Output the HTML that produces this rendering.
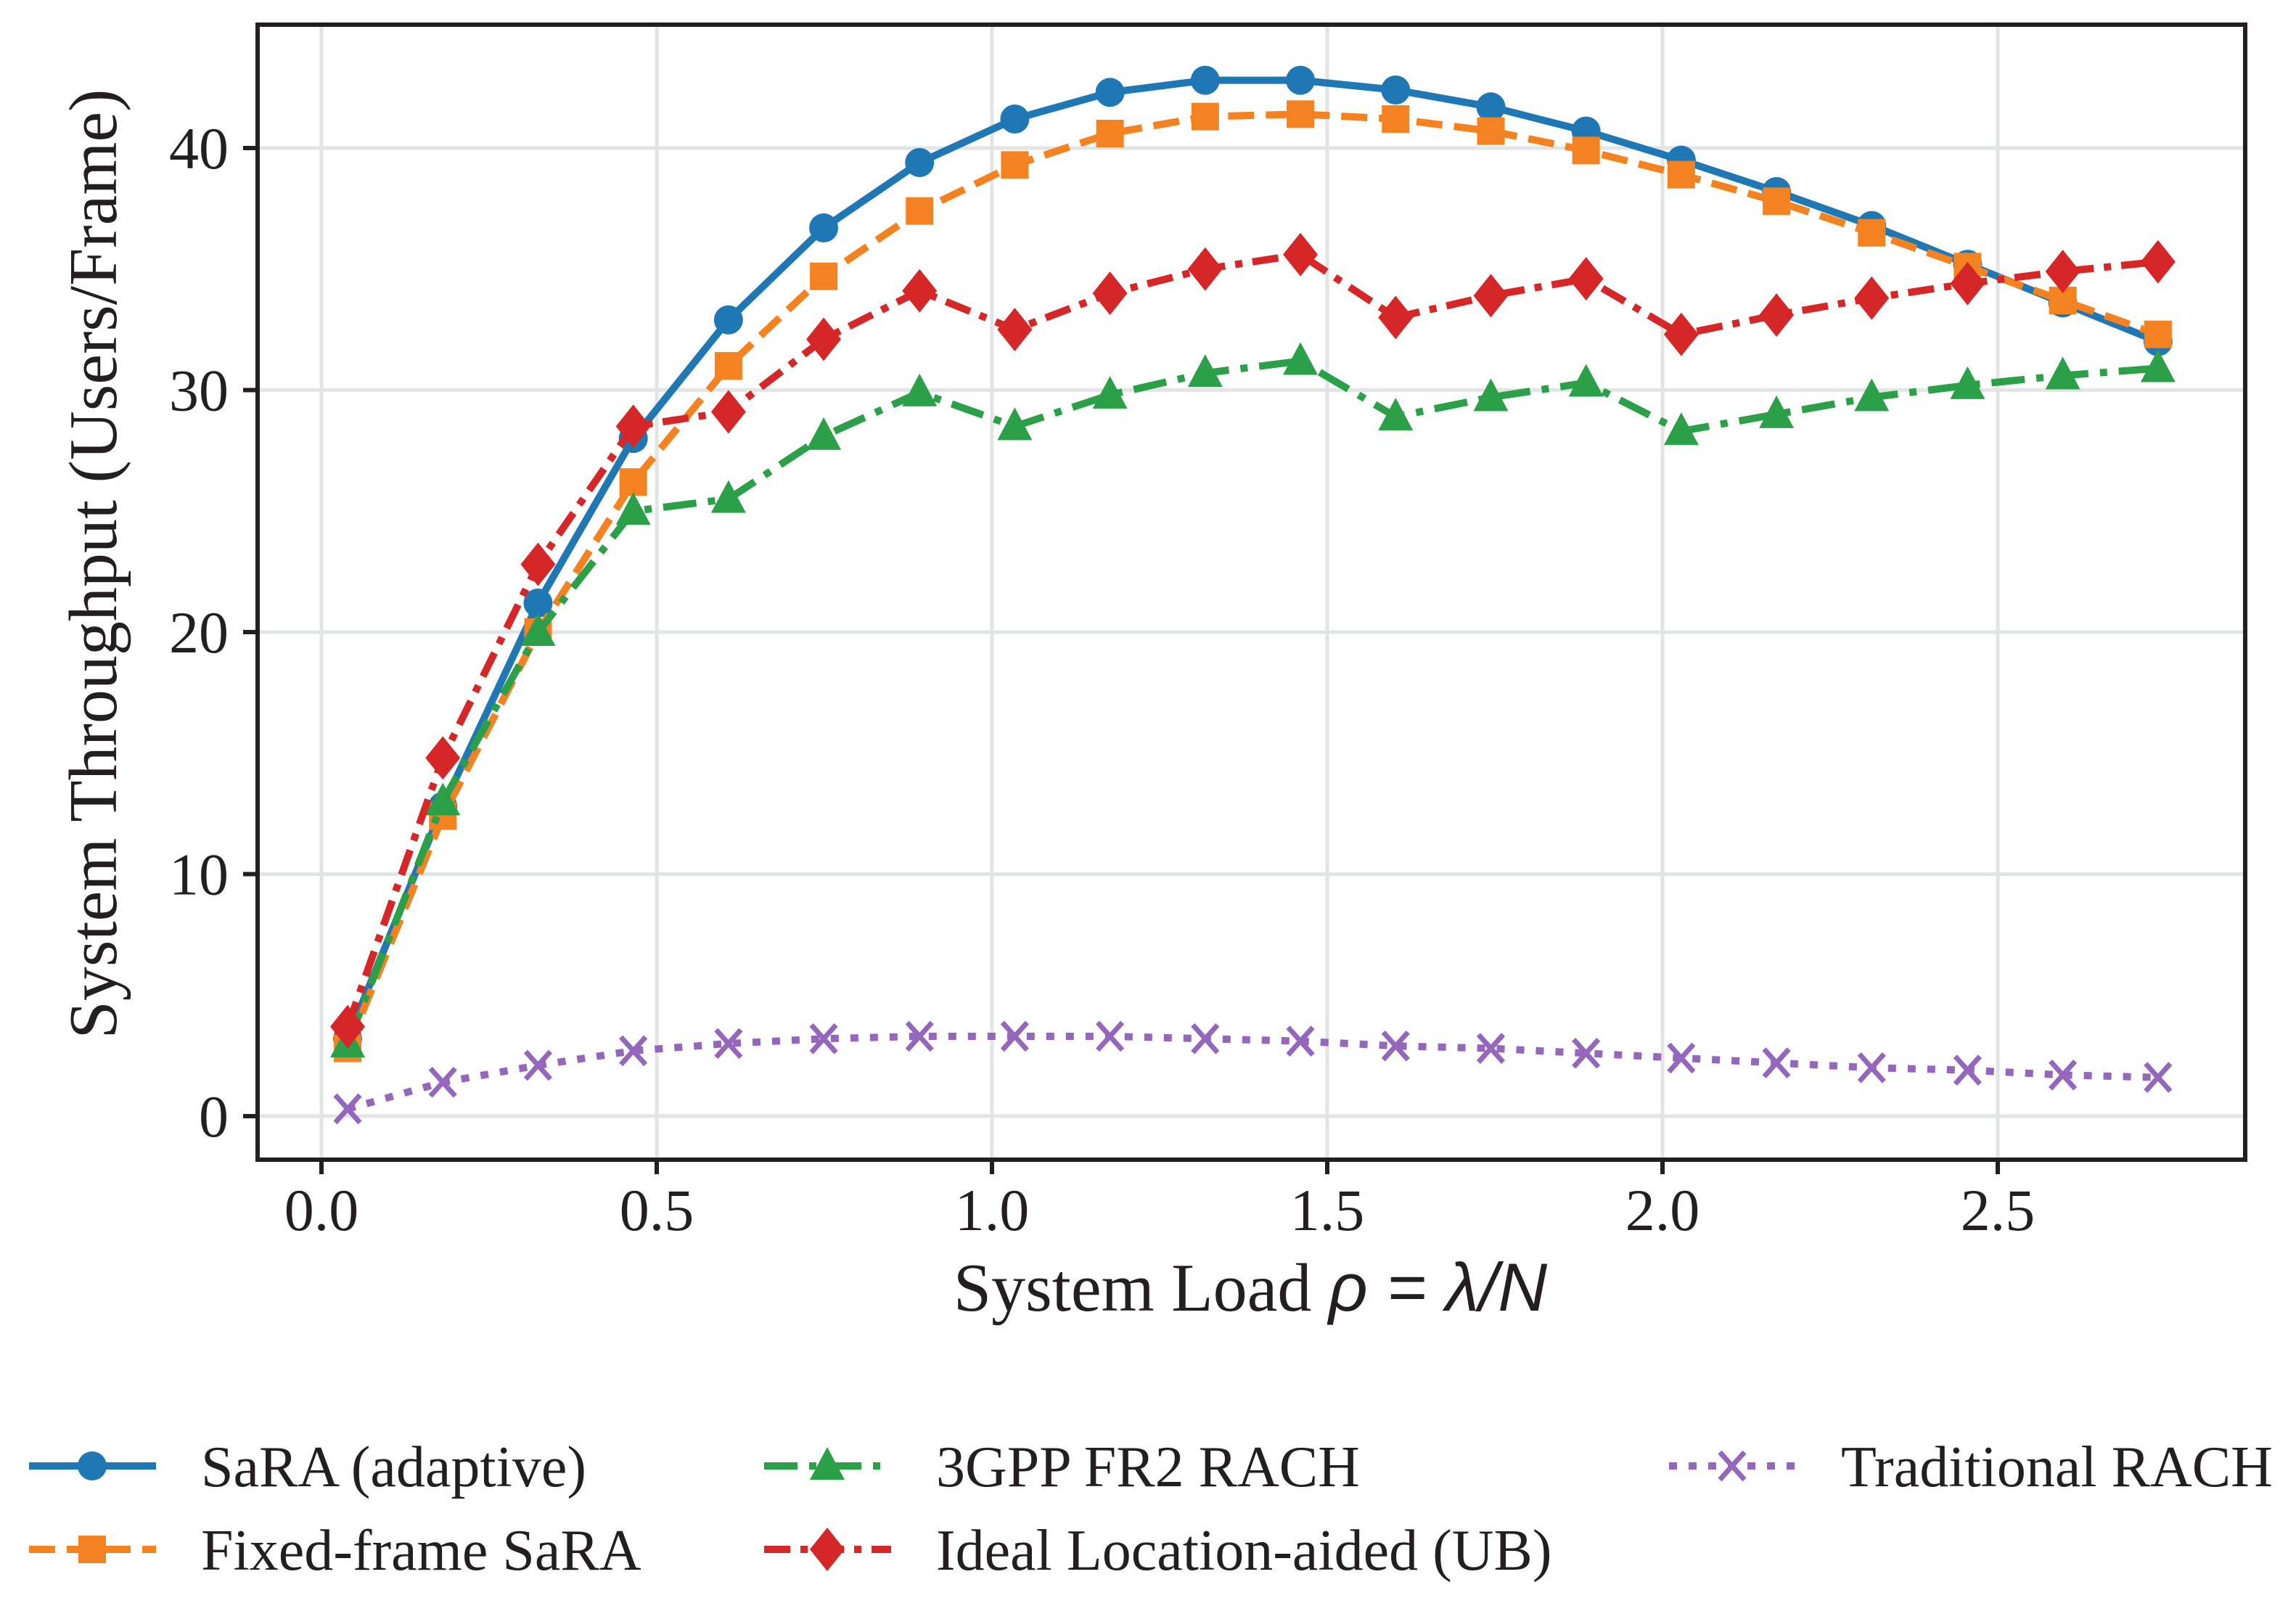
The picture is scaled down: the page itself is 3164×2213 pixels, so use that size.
<!DOCTYPE html>
<html><head><meta charset="utf-8"><style>
html,body{margin:0;padding:0;background:#fff;}
svg{display:block;font-family:"Liberation Serif","DejaVu Serif",serif;}
</style></head><body>
<svg id="chart" width="3164" height="2213" viewBox="0 0 3164 2213" xmlns="http://www.w3.org/2000/svg">
<rect width="3164" height="2213" fill="#fff"/>
<g id="grid"></g><g id="series"></g><g id="axes"></g><g id="legend"></g>
</svg>
<script>
const xVals = [0.039,0.181,0.323,0.465,0.607,0.749,0.892,1.034,1.176,1.318,1.460,1.602,1.744,1.886,2.028,2.170,2.312,2.455,2.597,2.739];
const saraAdaptive = [3.2,12.8,21.2,28.0,32.9,36.7,39.4,41.2,42.3,42.8,42.8,42.4,41.7,40.7,39.5,38.2,36.8,35.2,33.6,32.0];
const fixedFrame = [2.8,12.4,20.0,26.2,31.0,34.7,37.4,39.3,40.6,41.3,41.4,41.2,40.7,39.9,38.9,37.8,36.5,35.1,33.7,32.3];
const gppFr2 = [3.0,13.0,20.0,25.0,25.5,28.1,29.9,28.5,29.8,30.7,31.2,28.9,29.7,30.3,28.3,29.0,29.7,30.2,30.6,30.9];
const idealLoc = [3.7,14.8,22.8,28.5,29.1,32.1,34.1,32.5,34.0,35.0,35.6,33.0,33.9,34.6,32.3,33.1,33.8,34.4,34.9,35.3];
const traditional = [0.3,1.4,2.1,2.7,3.0,3.2,3.3,3.3,3.3,3.2,3.1,2.9,2.8,2.6,2.4,2.2,2.0,1.9,1.7,1.6];
const xTicks = [0.0,0.5,1.0,1.5,2.0,2.5];
const xTickLabels = ["0.0","0.5","1.0","1.5","2.0","2.5"];
const yTicks = [0,10,20,30,40];
const yTickLabels = ["0","10","20","30","40"];

const NS="http://www.w3.org/2000/svg";
const L=355,R=3094,T=34,B=1598;
const X0=443,XU=924, Y0=1538,YU=33.35;
function sx(v){return X0+v*XU;}
function sy(v){return Y0-v*YU;}
function mk(tag,attrs,parent){const e=document.createElementNS(NS,tag);for(const k in attrs)e.setAttribute(k,attrs[k]);parent.appendChild(e);return e;}
const grid=document.getElementById('grid'),axes=document.getElementById('axes'),ser=document.getElementById('series'),leg=document.getElementById('legend');

xTicks.forEach((t,i)=>{
  const g=mk('line',{x1:sx(t),x2:sx(t),y1:T,y2:B,stroke:'#e3e4e6','stroke-width':5},grid);
  
  
  const tk=mk('line',{x1:sx(t),x2:sx(t),y1:B,y2:B+20,stroke:'#231f20','stroke-width':6},axes);
  
  
  const tx=mk('text',{x:sx(t),y:1695,'font-size':82,'text-anchor':'middle',fill:'#231f20'},axes);
  tx.textContent=xTickLabels[i];
  
  
});
yTicks.forEach((t,i)=>{
  const g=mk('line',{x1:L,x2:R,y1:sy(t),y2:sy(t),stroke:'#e3e4e6','stroke-width':5},grid);
  
  
  const tk=mk('line',{x1:L-20,x2:L,y1:sy(t),y2:sy(t),stroke:'#231f20','stroke-width':6},axes);
  
  
  const tx=mk('text',{x:L-40,y:sy(t)+28,'font-size':82,'text-anchor':'end',fill:'#231f20'},axes);
  tx.textContent=yTickLabels[i];
  
  
});
const frame=mk('rect',{x:L,y:T,width:R-L,height:B-T,fill:'none',stroke:'#231f20','stroke-width':6},axes);


const xl=mk('text',{x:1723,y:1806,'font-size':94,'text-anchor':'middle',fill:'#231f20'},axes);
xl.innerHTML='System Load <tspan font-family="Liberation Sans, DejaVu Sans, sans-serif" font-style="italic">ρ = λ/N</tspan>';


const yl=mk('text',{x:0,y:0,'font-size':94,'text-anchor':'middle',fill:'#231f20',transform:'translate(160,777) rotate(-90)'},axes);
yl.textContent='System Throughput (Users/Frame)';



function marker(type,cx,cy,color,parent){
  let e;
  if(type==='circle') e=mk('circle',{cx:cx,cy:cy,r:20,fill:color},parent);
  else if(type==='square') e=mk('rect',{x:cx-19,y:cy-19,width:38,height:38,fill:color},parent);
  else if(type==='triangle') e=mk('polygon',{points:`${cx},${cy-26} ${cx+24},${cy+19} ${cx-24},${cy+19}`,fill:color},parent);
  else if(type==='diamond') e=mk('polygon',{points:`${cx},${cy-30} ${cx+24},${cy} ${cx},${cy+30} ${cx-24},${cy}`,fill:color},parent);
  else { e=mk('path',{d:`M${cx-17},${cy-19}L${cx+17},${cy+19}M${cx-17},${cy+19}L${cx+17},${cy-19}`,stroke:color,'stroke-width':7,fill:'none'},parent); }
  return e;
}
const series=[
  {name:'sara-adaptive',label:'SaRA (adaptive)',data:saraAdaptive,color:'#1f77b4',dash:'',m:'circle'},
  {name:'fixed-frame-sara',label:'Fixed-frame SaRA',data:fixedFrame,color:'#f58220',dash:'36,16',m:'square'},
  {name:'3gpp-fr2-rach',label:'3GPP FR2 RACH',data:gppFr2,color:'#2ca048',dash:'46,16,10,16',m:'triangle'},
  {name:'ideal-location-aided',label:'Ideal Location-aided (UB)',data:idealLoc,color:'#d62728',dash:'36,14,10,14',m:'diamond'},
  {name:'traditional-rach',label:'Traditional RACH',data:traditional,color:'#9467bd',dash:'11,16',m:'x'}
];
series.forEach(s=>{
  const g=mk('g',{},ser);
  
  
  const pts=s.data.map((v,i)=>sx(xVals[i])+','+sy(v)).join(' ');
  const pl=mk('polyline',{points:pts,fill:'none',stroke:s.color,'stroke-width':10,'stroke-dasharray':s.dash},g);
  
  
  s.data.forEach((v,i)=>{
    const m=marker(s.m,sx(xVals[i]),sy(v),s.color,g);
    
    
  });
});
const legPos=[[40,2020],[40,2135],[1053,2020],[1053,2135],[2300,2020]];
series.forEach((s,i)=>{
  const [x,y]=legPos[i];
  const g=mk('g',{},leg);
  
  
  mk('line',{x1:x,x2:x+175,y1:y,y2:y,stroke:s.color,'stroke-width':10,'stroke-dasharray':s.dash},g);
  marker(s.m,x+87,y,s.color,g);
  const t=mk('text',{x:x+237,y:y+28,'font-size':80,fill:'#231f20'},g);
  t.textContent=s.label;
});
</script>
</body></html>
